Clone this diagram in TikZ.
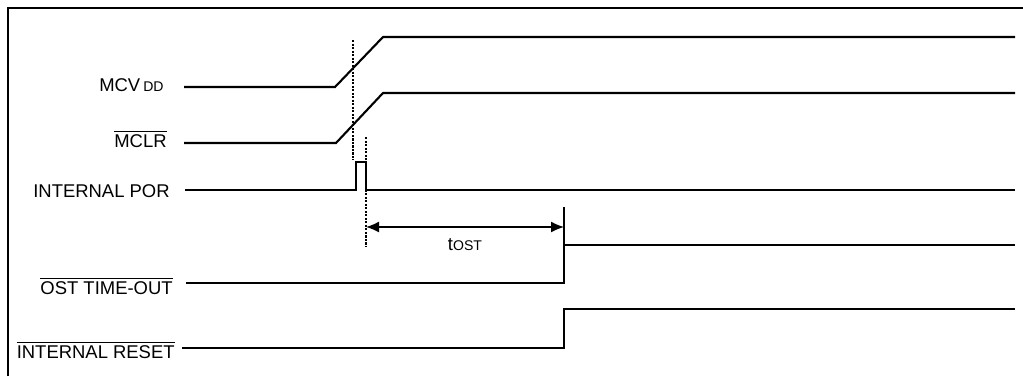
\documentclass[tikz,border=0pt]{standalone}
\usepackage{fontspec}
\setmainfont{Liberation Sans}
\usetikzlibrary{arrows.meta,positioning,calc}
\tikzset{
	sig/.style={
		line width=1.2pt,
		line join=miter,
	},
	signame/.style={
		anchor=base east,
		inner sep=0pt,
		font=\fontsize{10.5}{12}\selectfont,
	},
	marker/.style={
		line width=0.6pt,
		dash pattern=on 1.2pt off 0.8pt,
	},
	span/.style={
		line width=0.8pt,
		{Latex[length=2.6mm,width=2.2mm]}-{Latex[length=2.6mm,width=2.2mm]},
	},
	frame/.style={line width=1pt}
}

\begin{document}
\begin{tikzpicture}[x=0.02cm, y=-0.02cm]
	\useasboundingbox (0,0) rectangle (1023,376);
	\draw[frame] (8,376) -- (8,8) -- (1023,8);
	
	% --- Signal names ---
	\node[signame] (vdd) at (164,91) {MCV\,{\footnotesize DD}};
	\node[signame] (mclr) at (167,147) {$\overline{\mbox{MCLR}}$};
	\node[signame] (por) at (170,197) {INTERNAL POR};
	\node[signame] (ost) at (173,294) {$\overline{\mbox{OST TIME-OUT}}$};
	\node[signame] (rst) at (175,358) {$\overline{\mbox{INTERNAL RESET}}$};
	
	% --- Waveforms ---
	\draw[sig] (184,87) -- (335,87) -- (383,37) -- (1015,37);
	\draw[sig] (184,143) -- (336,143) -- (383,93) -- (1015,93);
	\draw[sig] (185,190) -- (356,190) -- (356,162) -- (366,162) -- (366,190) -- (1015,190);
	\coordinate (ostTop) at (564,207);
	\coordinate (ostHigh) at (564,245);
	\draw[sig] (186,283) -- (564,283) -- (ostTop);
	\draw[sig] (ostHigh) -- (1015,245);
	\draw[sig] (182,348) -- (564,348) -- (564,309) -- (1015,309);
	
	% --- Timing markers ---
	\draw[marker] (353,40) -- (353,160);
	\draw[marker] (366,137) -- (366,246);
	\coordinate (porEnd) at (366,227);
	\coordinate (ostEdge) at (564,227);
	\draw[span] (porEnd) -- (ostEdge) node[midway, below=3pt, font=\fontsize{10.5}{12}\selectfont] (tost) {t{\footnotesize OST}};
\end{tikzpicture}
\end{document}
